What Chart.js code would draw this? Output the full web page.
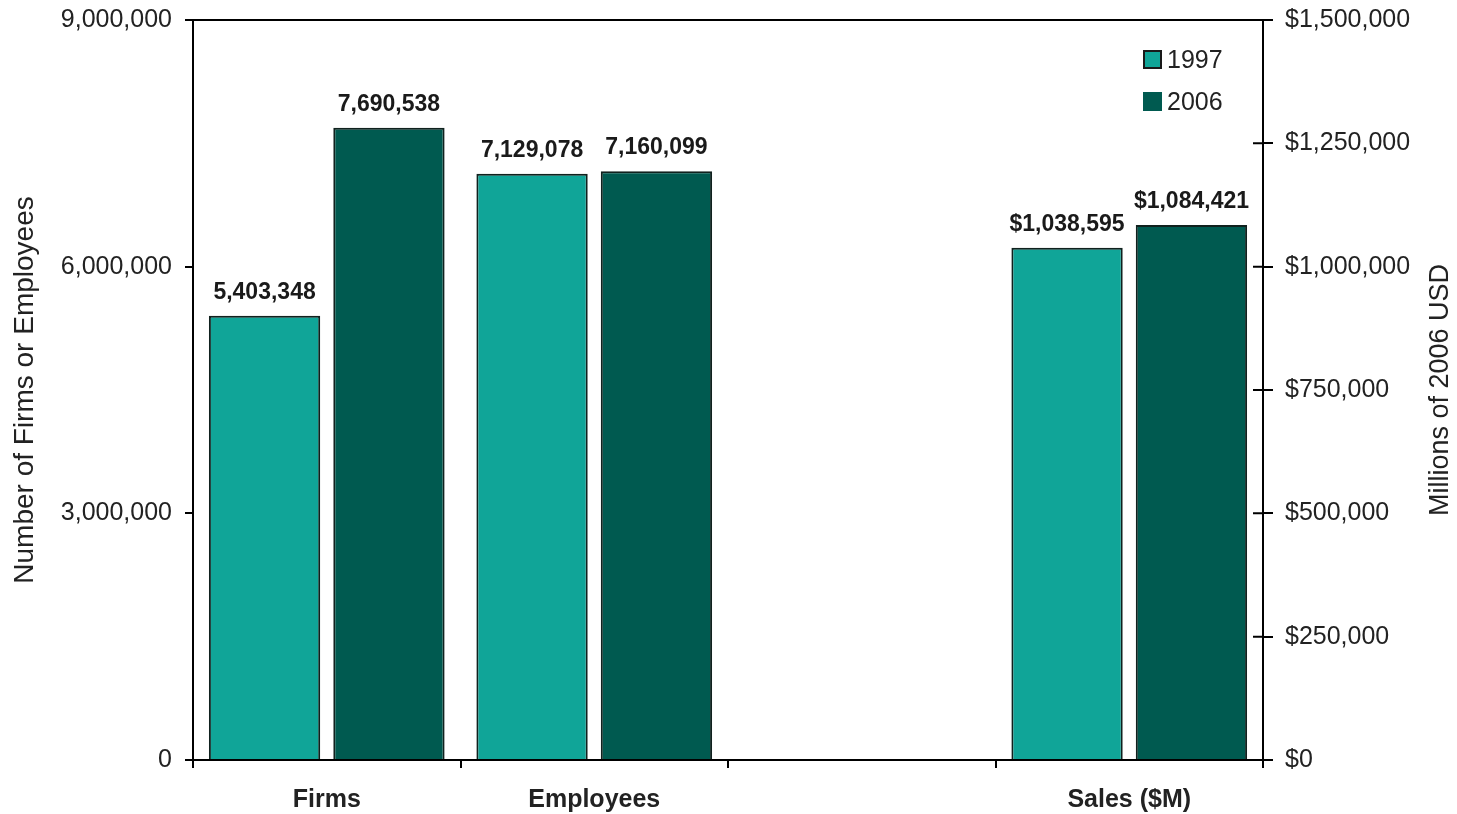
<!DOCTYPE html>
<html>
<head>
<meta charset="utf-8">
<title>Firms, Employees and Sales 1997 vs 2006</title>
<script src="https://cdn.jsdelivr.net/npm/chart.js@4.4.1/dist/chart.umd.min.js"></script>
<style>
  html, body { margin: 0; padding: 0; background: #fff; }
  .wrap { position: relative; width: 1457px; height: 814px; }
  .legend { position: absolute; left: 1143px; top: 44px; font-family: Arial, "Liberation Sans", sans-serif; font-size: 25px; color: #222; }
  .legend-item { display: flex; align-items: center; height: 30px; margin-bottom: 12px; }
  .legend-box { width: 15px; height: 15px; margin-right: 5px; border: 2px solid #1a1a1a; }
</style>
</head>
<body>
<div class="wrap">
  <canvas id="chart" width="1457" height="814"></canvas>
  <div class="legend"></div>
</div>
<script>
// data
const categories = ["Firms", "Employees", "", "Sales ($M)"];
const seriesNames = ["1997", "2006"];
const seriesColors = ["#10a598", "#005a50"];
const counts1997 = [5403348, 7129078, null, null];
const counts2006 = [7690538, 7160099, null, null];
const sales1997 = [null, null, null, 1038595];
const sales2006 = [null, null, null, 1084421];
const leftTicks = [0, 3000000, 6000000, 9000000];
const rightTicks = [0, 250000, 500000, 750000, 1000000, 1250000, 1500000];

const fontFamily = 'Arial, "Liberation Sans", sans-serif';
Chart.defaults.font.family = fontFamily;
Chart.defaults.color = "#222";

function money(v) {
  return "$" + v.toLocaleString("en-US");
}

// html legend built from the series
let legendBox = document.querySelector(".legend");
seriesNames.forEach((name, i) => {
  let item = document.createElement("div");
  item.className = "legend-item";
  let box = document.createElement("span");
  box.className = "legend-box";
  box.style.background = seriesColors[i];
  if (i == 1) box.style.borderColor = seriesColors[i];
  let label = document.createElement("span");
  label.textContent = name;
  item.appendChild(box);
  item.appendChild(label);
  legendBox.appendChild(item);
});

// value labels above bars, top frame line, right tick halves and right title
const extras = {
  id: "extras",
  afterDatasetsDraw(chart) {
    const ctx = chart.ctx;
    ctx.save();
    ctx.font = "bold 23px " + fontFamily;
    ctx.fillStyle = "#1a1a1a";
    ctx.textAlign = "center";
    ctx.textBaseline = "alphabetic";
    chart.data.datasets.forEach((ds, i) => {
      const meta = chart.getDatasetMeta(i);
      meta.data.forEach((bar, j) => {
        const v = ds.data[j];
        if (v == null) return;
        const text = ds.yAxisID == "y1" ? money(v) : v.toLocaleString("en-US");
        ctx.fillText(text, bar.x, bar.y - 17);
      });
    });
    ctx.restore();
  },
  afterDraw(chart) {
    const ctx = chart.ctx;
    const area = chart.chartArea;
    const y1 = chart.scales.y1;
    ctx.save();
    ctx.strokeStyle = "#000";
    ctx.lineWidth = 2;
    ctx.beginPath();
    ctx.moveTo(area.left - 1, area.top);
    ctx.lineTo(area.right, area.top);
    // inner half of the right axis ticks
    rightTicks.forEach(t => {
      const py = y1.getPixelForValue(t);
      ctx.moveTo(area.right - 10, py);
      ctx.lineTo(area.right, py);
    });
    ctx.stroke();

    ctx.font = "27px " + fontFamily;
    ctx.fillStyle = "#222";
    ctx.textAlign = "center";
    ctx.textBaseline = "middle";
    ctx.translate(1441, (area.top + area.bottom) / 2);
    ctx.rotate(-Math.PI / 2);
    ctx.fillText("Millions of 2006 USD", 0, 0);
    ctx.restore();
  }
};

// fixed axis sizes so the plot box sits where the original has it
function fixY(width) {
  return function (scale) {
    scale.width = width;
    scale.paddingTop = 0;
    scale.paddingBottom = 0;
  };
}

const ctx = document.getElementById("chart");
new Chart(ctx, {
  type: "bar",
  data: {
    labels: categories,
    datasets: [
      { label: seriesNames[0], data: counts1997, yAxisID: "y", backgroundColor: seriesColors[0] },
      { label: seriesNames[1], data: counts2006, yAxisID: "y", backgroundColor: seriesColors[1] },
      { label: seriesNames[0], data: sales1997, yAxisID: "y1", backgroundColor: seriesColors[0] },
      { label: seriesNames[1], data: sales2006, yAxisID: "y1", backgroundColor: seriesColors[1] },
    ],
  },
  options: {
    responsive: false,
    animation: false,
    layout: { padding: { top: 20, left: 0, right: 0, bottom: 0 } },
    datasets: {
      bar: {
        skipNull: true,
        categoryPercentage: 0.93,
        barPercentage: 0.895,
        borderColor: "#10211e",
        borderWidth: 2,
      },
    },
    plugins: {
      legend: { display: false },
      tooltip: { enabled: false },
    },
    scales: {
      x: {
        grid: { offset: true, drawOnChartArea: false, drawTicks: true, tickLength: 8, color: "#000", lineWidth: 2 },
        border: { display: true, color: "#000", width: 2 },
        ticks: { font: { size: 25, weight: "bold" }, color: "#222", padding: 17 },
        afterFit(scale) {
          scale.height = 54;
          scale.paddingLeft = 0;
          scale.paddingRight = 0;
        },
      },
      y: {
        position: "left",
        min: 0,
        max: leftTicks[leftTicks.length - 1],
        afterBuildTicks(scale) { scale.ticks = leftTicks.map(v => ({ value: v })); },
        grid: { drawOnChartArea: false, drawTicks: true, tickLength: 8, color: "#000", lineWidth: 2 },
        border: { display: true, color: "#000", width: 2 },
        ticks: {
          font: { size: 25 },
          color: "#222",
          padding: 13,
          callback: v => v.toLocaleString("en-US"),
        },
        title: {
          display: true,
          text: "Number of Firms or Employees",
          font: { size: 28 },
          color: "#222",
          padding: { top: 8, bottom: 0 },
        },
        afterFit: fixY(193),
      },
      y1: {
        position: "right",
        min: 0,
        max: rightTicks[rightTicks.length - 1],
        afterBuildTicks(scale) { scale.ticks = rightTicks.map(v => ({ value: v })); },
        grid: { drawOnChartArea: false, drawTicks: true, tickLength: 10, color: "#000", lineWidth: 2 },
        border: { display: true, color: "#000", width: 2 },
        ticks: {
          font: { size: 25 },
          color: "#222",
          padding: 12,
          callback: v => money(v),
        },
        afterFit: fixY(194),
      },
    },
  },
  plugins: [extras],
});
</script>
</body>
</html>
